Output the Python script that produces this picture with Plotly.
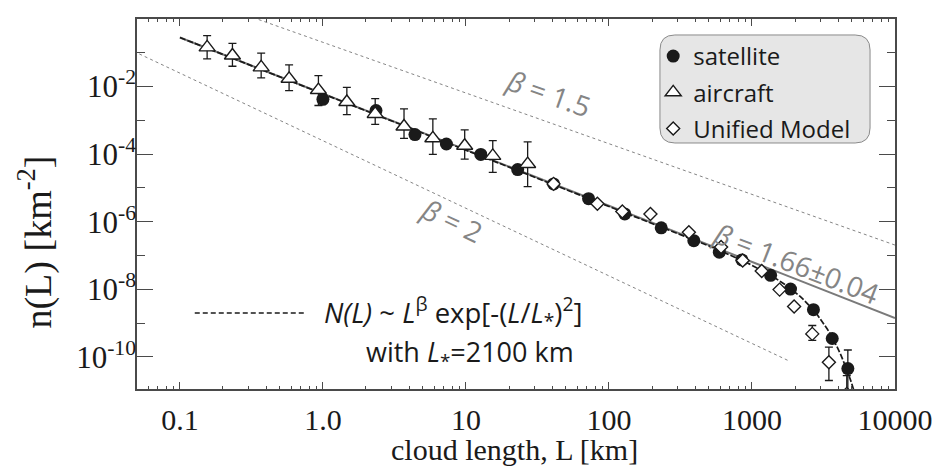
import math
import plotly.graph_objects as go

# ---------------- data ----------------
# satellite cloud-length distribution
sat_L = [1.0, 2.35, 4.4, 7.3, 12.7, 23, 41, 72, 129, 232, 392, 591, 850,
         1350, 1860, 2690, 3640, 4680]
sat_n = [4.2e-3, 1.95e-3, 3.8e-4, 2.0e-4, 9.8e-5, 3.5e-5, 1.32e-5, 4.8e-6,
         1.7e-6, 6.6e-7, 2.75e-7, 1.26e-7, 7.4e-8, 2.6e-8, 1.02e-8, 2.5e-9,
         3.5e-10, 4.5e-11]
sat_hi = [None] * 17 + [1.6e-10]
sat_lo = [None] * 17 + [1e-12]

# aircraft cloud-length distribution with uncertainty range
air_L = [0.155, 0.233, 0.37, 0.58, 0.93, 1.47, 2.32, 3.69, 5.87, 9.8, 15.4, 27]
air_n = [0.145, 0.083, 0.037, 0.017, 7.9e-3, 3.5e-3, 1.55e-3, 6.6e-4,
         2.95e-4, 1.78e-4, 8.9e-5, 5.1e-5]
air_hi = [0.324, 0.19, 0.098, 0.044, 0.021, 9.5e-3, 4.4e-3, 2.2e-3,
          1.1e-3, 5.2e-4, 2.5e-4, 2.3e-4]
air_lo = [0.066, 0.040, 0.018, 7.6e-3, 2.75e-3, 1.48e-3, 7.6e-4, 2.95e-4,
          9.8e-5, 7.1e-5, 2.9e-5, 1.1e-5]

# Unified Model cloud-length distribution
um_L = [41, 83, 124, 195, 362, 608, 861, 1170, 1560, 1970, 2640, 3450, 4600]
um_n = [1.32e-5, 3.4e-6, 2.0e-6, 1.7e-6, 4.9e-7, 1.78e-7, 7.1e-8, 3.5e-8,
        9.8e-9, 3.1e-9, 4.8e-10, 6.9e-11, 8e-12]
um_hi = [None] * 10 + [8.5e-10, 1.95e-10, 2.8e-11]
um_lo = [None] * 10 + [3.1e-10, 2.0e-11, 2e-12]

# power-law reference lines: exponent, n at L = 1 km, L extent
ref_beta = [1.5, 2.0]
ref_coef = [0.204, 2.5e-4]
ref_Lmax = [10000, 1800]

# fitted power law and fit with large-scale cutoff
fit_beta = 1.66
fit_coef = 6.2e-3
fit_Lstar = 2100.0

# axis ticks
x_tickvals = [0.1, 1, 10, 100, 1000, 10000]
x_ticktext = ["0.1", "1.0", "10", "100", "1000", "10000"]
y_exps = [0, -2, -4, -6, -8, -10]
y_minor_exps = [-1, -3, -5, -7, -9]


def errs(vals, hi, lo):
    plus = [None if h is None else h - v for v, h in zip(vals, hi)]
    minus = [None if l is None else v - l for v, l in zip(vals, lo)]
    return plus, minus


def logspace(a, b, n):
    la, lb = math.log10(a), math.log10(b)
    return [10 ** (la + (lb - la) * i / (n - 1)) for i in range(n)]


INK = "#1a1a1a"
GREY = "#858585"
AXIS = "#4a4a4a"
SANS = "Open Sans"
SERIF = "Liberation Serif"

fig = go.Figure()

# dotted reference power laws
for b, c, lmax in zip(ref_beta, ref_coef, ref_Lmax):
    Ls = logspace(0.04, lmax, 60)
    fig.add_trace(go.Scatter(
        x=Ls, y=[c * L ** (-b) for L in Ls], mode="lines",
        line=dict(color=GREY, width=1, dash="dot"),
        showlegend=False, hoverinfo="skip"))

# fitted power law
Ls = logspace(0.1, 10000, 60)
fig.add_trace(go.Scatter(
    x=Ls, y=[fit_coef * L ** (-fit_beta) for L in Ls], mode="lines",
    line=dict(color="#7a7a7a", width=2),
    showlegend=False, hoverinfo="skip"))

# power law with exponential cutoff
Ls = logspace(0.1, 5200, 200)
fig.add_trace(go.Scatter(
    x=Ls, y=[fit_coef * L ** (-fit_beta) * math.exp(-(L / fit_Lstar) ** 2) for L in Ls],
    mode="lines", line=dict(color=INK, width=1.7, dash="6px,2px"),
    showlegend=False, hoverinfo="skip"))

p, m = errs(sat_n, sat_hi, sat_lo)
fig.add_trace(go.Scatter(
    x=sat_L, y=sat_n, mode="markers", name="satellite", legendgroup="a",
    marker=dict(symbol="circle", size=13, color=INK),
    error_y=dict(type="data", array=p, arrayminus=m, color=INK,
                 thickness=1.3, width=4)))

p, m = errs(air_n, air_hi, air_lo)
fig.add_trace(go.Scatter(
    x=air_L, y=air_n, mode="markers", name="aircraft", legendgroup="b",
    marker=dict(symbol="triangle-up", size=14, color="white",
                line=dict(color=INK, width=1.4)),
    error_y=dict(type="data", array=p, arrayminus=m, color=INK,
                 thickness=1.3, width=4)))

p, m = errs(um_n, um_hi, um_lo)
fig.add_trace(go.Scatter(
    x=um_L, y=um_n, mode="markers", name="Unified Model", legendgroup="c",
    marker=dict(symbol="diamond", size=10, color="white",
                line=dict(color=INK, width=1.4)),
    error_y=dict(type="data", array=p, arrayminus=m, color=INK,
                 thickness=1.3, width=4)))

# rounded legend box
x0, x1, y0, y1 = 0.6899, 0.9671, 0.6649, 0.9568
rx, ry = 0.0197, 0.0405
box = (f"M {x0+rx},{y1} L {x1-rx},{y1} Q {x1},{y1} {x1},{y1-ry} "
       f"L {x1},{y0+ry} Q {x1},{y0} {x1-rx},{y0} L {x0+rx},{y0} "
       f"Q {x0},{y0} {x0},{y0+ry} L {x0},{y1-ry} Q {x0},{y1} {x0+rx},{y1} Z")
fig.add_shape(type="path", path=box, xref="paper", yref="paper",
              fillcolor="#e6e6e6", line=dict(color="#8a8a8a", width=1),
              layer="above")

# dashed key for the fitted curve
fig.add_shape(type="line", xref="paper", yref="paper",
              x0=0.0762, x1=0.2208, y0=0.2054, y1=0.2054,
              line=dict(color=INK, width=1.5, dash="5px,3px"))

ann = []
ann.append(dict(text="<i>β</i> = 1.5", x=1.58, y=-2.2, textangle=19.4,
                font=dict(family=SANS, size=28, color=GREY), showarrow=False))
ann.append(dict(text="<i>β</i> = 2", x=0.90, y=-5.96, textangle=25.2,
                font=dict(family=SANS, size=28, color=GREY), showarrow=False))
ann.append(dict(text="<i>β</i> = 1.66±0.04", x=3.31, y=-7.22, textangle=21.3,
                font=dict(family=SANS, size=28, color=GREY), showarrow=False))
ann.append(dict(text="<i>N(L)</i> ~ <i>L</i><sup>β</sup> exp[-(<i>L</i>/<i>L</i><sub>*</sub>)<sup>2</sup>]",
                xref="paper", yref="paper", x=0.2444, y=0.2081,
                xanchor="left", yanchor="middle",
                font=dict(family=SANS, size=27.5, color=INK), showarrow=False))
ann.append(dict(text="with <i>L</i><sub>*</sub>=2100 km",
                xref="paper", yref="paper", x=0.2996, y=0.0946,
                xanchor="left", yanchor="middle",
                font=dict(family=SANS, size=27, color=INK), showarrow=False))
ann.append(dict(text="n(L) [km<sup>-2</sup>]", xref="paper", yref="paper",
                x=-0.134, y=0.397, textangle=-90,
                xanchor="center", yanchor="middle",
                font=dict(family=SERIF, size=38, color=INK), showarrow=False))
ann.append(dict(text="cloud length, L [km]", xref="paper", yref="paper",
                x=0.498, y=-0.163, xanchor="center", yanchor="middle",
                font=dict(family=SERIF, size=30, color=INK), showarrow=False))

x_minor = [k * 10 ** d for d in range(-2, 4) for k in range(2, 10)]

fig.update_layout(
    width=945, height=474,
    margin=dict(l=137, r=47, t=19, b=85),
    paper_bgcolor="white", plot_bgcolor="white",
    annotations=ann,
    showlegend=True,
    legend=dict(x=0.681, y=0.9595, xanchor="left", yanchor="top",
                bgcolor="rgba(0,0,0,0)", borderwidth=0,
                font=dict(family=SANS, size=24, color=INK),
                tracegroupgap=2, traceorder="grouped"),
    xaxis=dict(type="log", range=[-1.3, 4.0], tickvals=x_tickvals,
               ticktext=x_ticktext, ticks="inside", ticklen=7, tickwidth=1.2,
               tickcolor=AXIS, showline=True, mirror="allticks",
               linecolor=AXIS, linewidth=1.5, showgrid=False, zeroline=False,
               ticklabelstandoff=3,
               tickfont=dict(family=SERIF, size=30, color=INK),
               minor=dict(tickvals=x_minor, ticks="inside", ticklen=3.5,
                          tickwidth=1, tickcolor=AXIS, showgrid=False)),
    yaxis=dict(type="log", range=[-10.95, 0],
               tickvals=[10.0 ** e for e in y_exps],
               ticktext=[f"10<sup>{e}</sup>" for e in y_exps],
               ticks="inside", ticklen=16, tickwidth=1.2, tickcolor=AXIS,
               showline=True, mirror="allticks", linecolor=AXIS,
               linewidth=1.5, showgrid=False, zeroline=False,
               ticklabelstandoff=-7,
               tickfont=dict(family=SERIF, size=31, color=INK),
               minor=dict(tickvals=[10.0 ** e for e in y_minor_exps],
                          ticks="inside", ticklen=8, tickwidth=1.2,
                          tickcolor=AXIS, showgrid=False)),
)

fig.write_html("out.html")
